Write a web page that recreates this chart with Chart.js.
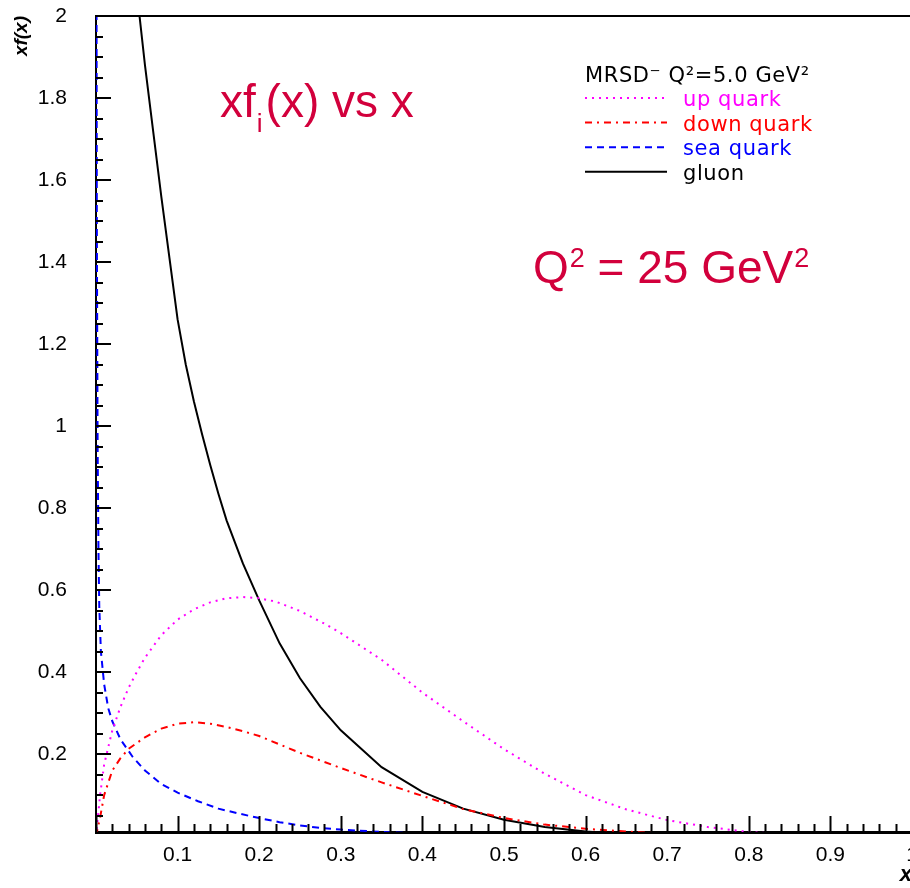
<!DOCTYPE html>
<html>
<head>
<meta charset="utf-8">
<script src="https://cdn.jsdelivr.net/npm/chart.js@4/dist/chart.umd.min.js"></script>
<style>
  html, body { margin: 0; padding: 0; overflow: hidden; background: #fff; }
</style>
</head>
<body>
<canvas id="graph" width="914" height="888"></canvas>
<script>
// tick labels
const xTickVals = [0.1, 0.2, 0.3, 0.4, 0.5, 0.6, 0.7, 0.8, 0.9, 1];
const yTickVals = [0.2, 0.4, 0.6, 0.8, 1, 1.2, 1.4, 1.6, 1.8, 2];

// up quark
const upX = [0, 0.005, 0.01, 0.02, 0.03, 0.04, 0.05, 0.06, 0.08, 0.10, 0.12, 0.14, 0.16, 0.18, 0.20, 0.22, 0.25, 0.28, 0.30, 0.35, 0.40, 0.45, 0.50, 0.55, 0.60, 0.65, 0.70, 0.75, 0.80, 0.85, 0.90, 1.0];
const upY = [0, 0.10, 0.175, 0.258, 0.315, 0.362, 0.40, 0.435, 0.49, 0.528, 0.553, 0.57, 0.58, 0.583, 0.58, 0.572, 0.549, 0.518, 0.495, 0.43, 0.35, 0.28, 0.212, 0.152, 0.10, 0.065, 0.039, 0.022, 0.010, 0.004, 0.001, 0];

// down quark
const downX = [0, 0.005, 0.01, 0.02, 0.03, 0.04, 0.06, 0.08, 0.10, 0.12, 0.14, 0.16, 0.18, 0.20, 0.25, 0.30, 0.35, 0.40, 0.45, 0.50, 0.55, 0.60, 0.65, 0.70, 0.80, 1.0];
const downY = [0, 0.045, 0.10, 0.16, 0.19, 0.213, 0.241, 0.262, 0.274, 0.278, 0.274, 0.266, 0.256, 0.244, 0.203, 0.166, 0.131, 0.098, 0.066, 0.044, 0.028, 0.018, 0.011, 0.006, 0.002, 0];

// sea quark
const seaX = [0.0005, 0.001, 0.002, 0.003, 0.004, 0.006, 0.01, 0.015, 0.02, 0.03, 0.045, 0.06, 0.08, 0.10, 0.125, 0.15, 0.175, 0.20, 0.225, 0.25, 0.275, 0.30, 0.35, 0.40, 0.50, 0.60, 1.0];
const seaY = [2.3, 1.5, 0.95, 0.7, 0.56, 0.45, 0.37, 0.312, 0.28, 0.236, 0.193, 0.16, 0.127, 0.106, 0.085, 0.067, 0.055, 0.044, 0.034, 0.026, 0.020, 0.016, 0.010, 0.006, 0.002, 0.0005, 0];

// gluon
const gluonX = [0.05, 0.06, 0.07, 0.08, 0.09, 0.10, 0.11, 0.12, 0.13, 0.14, 0.15, 0.16, 0.18, 0.20, 0.225, 0.25, 0.275, 0.30, 0.35, 0.40, 0.45, 0.50, 0.55, 0.60, 0.65, 0.70, 0.80, 0.90, 1.0];
const gluonY = [2.06, 1.88, 1.72, 1.56, 1.41, 1.26, 1.15, 1.06, 0.98, 0.905, 0.835, 0.77, 0.665, 0.575, 0.47, 0.385, 0.315, 0.258, 0.168, 0.108, 0.067, 0.040, 0.022, 0.011, 0.005, 0.002, 0.0005, 0.0001, 0];

const pts = (xs, ys) => xs.map((x, i) => ({ x, y: ys[i] }));
const RED_TEXT = "#d2003c";

// inward ticks, top frame line, legend box and the red annotations
const decorations = {
  id: "decorations",
  afterDraw(chart) {
    const { ctx, chartArea: a, scales: { x, y } } = chart;
    ctx.save();
    ctx.strokeStyle = "#000";
    ctx.lineWidth = 2;
    ctx.beginPath();
    ctx.moveTo(a.left - 1, a.top);
    ctx.lineTo(a.right + 2, a.top);
    ctx.stroke();

    // x ticks every 0.02, long ones at 0.1
    for (let i = 0; i <= 50; i++) {
      const px = Math.round(x.getPixelForValue(i * 0.02)) + 0.5;
      const len = i % 5 === 0 ? 16 : 8;
      ctx.beginPath();
      ctx.moveTo(px, a.bottom);
      ctx.lineTo(px, a.bottom - len);
      ctx.stroke();
    }
    // y ticks every 0.05, long ones at 0.2
    for (let i = 1; i <= 40; i++) {
      const py = Math.round(y.getPixelForValue(i * 0.05));
      const len = i % 4 === 0 ? 15 : 7;
      ctx.beginPath();
      ctx.moveTo(a.left, py);
      ctx.lineTo(a.left + len, py);
      ctx.stroke();
    }

    // legend
    const lx = 585, lineEnd = 667, tx = 683;
    ctx.fillStyle = "#000";
    ctx.font = "21px 'DejaVu Sans'";
    ctx.letterSpacing = "0.6px";
    ctx.textBaseline = "alphabetic";
    ctx.textAlign = "left";
    ctx.fillText("MRSD\u207B Q\u00B2=5.0 GeV\u00B2", lx, 82);
    chart.data.datasets.forEach((ds, i) => {
      const ly = 98 + i * 24.6;
      ctx.save();
      ctx.strokeStyle = ds.borderColor;
      ctx.lineWidth = ds.borderWidth;
      ctx.setLineDash(ds.borderDash || []);
      ctx.beginPath();
      ctx.moveTo(lx, ly);
      ctx.lineTo(lineEnd, ly);
      ctx.stroke();
      ctx.restore();
      ctx.fillStyle = ds.borderColor;
      ctx.fillText(ds.label, tx, ly + 8);
    });
    ctx.letterSpacing = "0px";

    // title: xf_i(x) vs x
    ctx.fillStyle = RED_TEXT;
    ctx.font = "46px 'Liberation Sans'";
    let cx = 220;
    ctx.fillText("xf", cx, 117);
    cx += ctx.measureText("xf").width;
    ctx.font = "26px 'Liberation Sans'";
    ctx.fillText("i", cx + 1, 132);
    cx += ctx.measureText("i").width + 4;
    ctx.font = "46px 'Liberation Sans'";
    ctx.fillText("(x) vs x", cx, 117);

    // Q^2 = 25 GeV^2
    let qx = 533;
    ctx.font = "46px 'Liberation Sans'";
    ctx.fillText("Q", qx, 283);
    qx += ctx.measureText("Q").width + 1;
    ctx.font = "27px 'Liberation Sans'";
    ctx.fillText("2", qx, 267);
    qx += ctx.measureText("2").width;
    ctx.font = "46px 'Liberation Sans'";
    ctx.fillText(" = 25 GeV", qx, 283);
    qx += ctx.measureText(" = 25 GeV").width + 1;
    ctx.font = "27px 'Liberation Sans'";
    ctx.fillText("2", qx, 267);
    ctx.restore();
  }
};

const graph = document.getElementById("graph").getContext("2d");
const chart = new Chart(graph, {
  type: "line",
  data: {
    datasets: [
      { label: "up quark", data: pts(upX, upY), borderColor: "#ff00ff", borderWidth: 2, borderDash: [2, 5] },
      { label: "down quark", data: pts(downX, downY), borderColor: "#ff0000", borderWidth: 2, borderDash: [7, 5, 2, 5] },
      { label: "sea quark", data: pts(seaX, seaY), borderColor: "#0000ff", borderWidth: 2, borderDash: [7, 5] },
      { label: "gluon", data: pts(gluonX, gluonY), borderColor: "#000000", borderWidth: 2 }
    ]
  },
  options: {
    responsive: false,
    animation: false,
    parsing: false,
    elements: { point: { radius: 0 }, line: { tension: 0, fill: false } },
    layout: { padding: { left: 0, right: 2, top: 16, bottom: 0 } },
    plugins: { legend: { display: false }, tooltip: { enabled: false } },
    scales: {
      x: {
        type: "linear",
        min: 0,
        max: 1,
        grid: { display: false },
        border: { display: true, color: "#000", width: 3 },
        ticks: {
          color: "#000",
          padding: 3,
          maxRotation: 0,
          font: { family: "'Liberation Sans'", size: 21 },
          callback: v => String(+v.toFixed(2))
        },
        title: {
          display: true,
          text: "x",
          align: "end",
          color: "#000",
          padding: { top: 0, bottom: 0 },
          font: { family: "'Liberation Sans'", size: 22, style: "italic", weight: "bold" }
        },
        afterBuildTicks: s => { s.ticks = xTickVals.map(v => ({ value: v })); },
        afterFit: s => { s.height = 56; s.paddingLeft = 0; s.paddingRight = 0; }
      },
      y: {
        type: "linear",
        min: 0.01,
        max: 2,
        grid: { display: false },
        border: { display: true, color: "#000", width: 2 },
        ticks: {
          color: "#000",
          padding: 21,
          font: { family: "'Liberation Sans'", size: 21 },
          callback: v => String(+v.toFixed(2))
        },
        title: {
          display: true,
          text: "xf(x)",
          align: "end",
          color: "#000",
          padding: { top: 10, bottom: 0 },
          font: { family: "'Liberation Sans'", size: 19, style: "italic", weight: "bold" }
        },
        afterBuildTicks: s => { s.ticks = yTickVals.map(v => ({ value: v })); },
        afterFit: s => { s.width = 96; s.paddingTop = 0; s.paddingBottom = 0; }
      }
    }
  },
  plugins: [decorations]
});
</script>
</body>
</html>
